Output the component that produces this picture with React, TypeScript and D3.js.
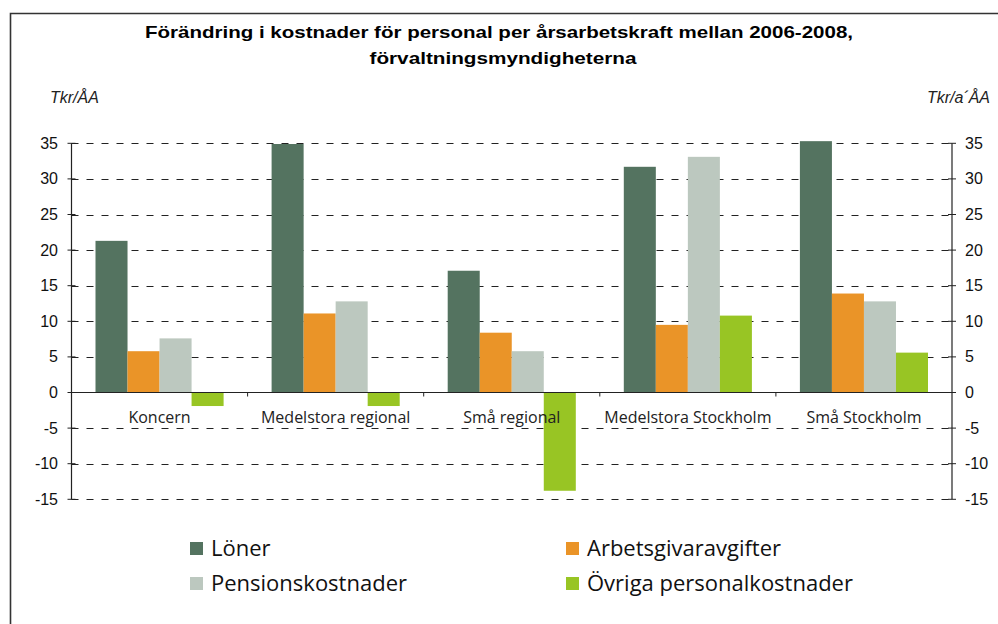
import React from "react";
import * as d3 from "d3";

const categories = ["Koncern", "Medelstora regional", "Små regional", "Medelstora Stockholm", "Små Stockholm"];
const seriesNames = ["Löner", "Arbetsgivaravgifter", "Pensionskostnader", "Övriga personalkostnader"];
const loner = [21.3, 34.9, 17.1, 31.7, 35.3];
const arbetsgivar = [5.8, 11.1, 8.4, 9.5, 13.9];
const pension = [7.6, 12.8, 5.8, 33.1, 12.8];
const ovriga = [-1.9, -1.9, -13.8, 10.8, 5.6];
const seriesValues = [loner, arbetsgivar, pension, ovriga];
const colors = ["#547360", "#EA9428", "#BCC8BF", "#98C524"];
const yTicks = [-15, -10, -5, 0, 5, 10, 15, 20, 25, 30, 35];
const titleLines = ["Förändring i kostnader för personal per årsarbetskraft mellan 2006-2008,", "förvaltningsmyndigheterna"];
const leftUnit = "Tkr/ÅA";
const rightUnit = "Tkr/a´ÅA";

export default function App() {
  const W = 998, H = 624;
  const left = 71.5, right = 952;
  const y = d3.scaleLinear().domain([-15, 35]).range([499.3, 143.3]);
  const x0 = d3.scaleBand<string>().domain(categories).range([left, right]).paddingInner(0).paddingOuter(0);
  const inner = 24;
  const x1 = d3.scaleBand<string>().domain(seriesNames).range([inner, x0.bandwidth() - inner]).padding(0);
  const axisFont = "'Liberation Sans', Arial, sans-serif";
  const humanFont = "'Open Sans', 'Noto Sans', sans-serif";
  const legendItems = [
    { i: 0, x: 190, y: 542 },
    { i: 1, x: 566, y: 542 },
    { i: 2, x: 190, y: 577 },
    { i: 3, x: 566, y: 577 },
  ];
  return (
    <svg width={W} height={H} style={{ position: "absolute", left: 0, top: 0, background: "#fff" }}>
      <rect x={0} y={0} width={W} height={H} fill="#fff" />
      <path d={`M10.5,${H} L10.5,13.5 L${W},13.5`} fill="none" stroke="#333" strokeWidth={1.6} />
      <text x={499} y={38} textAnchor="middle" fontFamily={axisFont} fontWeight="bold" fontSize={17} textLength={708} lengthAdjust="spacingAndGlyphs">{titleLines[0]}</text>
      <text x={503} y={64} textAnchor="middle" fontFamily={axisFont} fontWeight="bold" fontSize={17} textLength={267} lengthAdjust="spacingAndGlyphs">{titleLines[1]}</text>
      <text x={50} y={103} fontFamily={axisFont} fontStyle="italic" fontSize={16} fill="#222">{leftUnit}</text>
      <text x={990} y={103} textAnchor="end" fontFamily={axisFont} fontStyle="italic" fontSize={16} fill="#222">{rightUnit}</text>
      {yTicks.filter(t => t !== 0).map(t => (
        <line key={"g" + t} x1={left} x2={right} y1={Math.round(y(t)) + 0.5} y2={Math.round(y(t)) + 0.5} stroke="#222" strokeWidth={1} strokeDasharray="7,8" />
      ))}
      {seriesValues.map((vals, si) => (
        <g key={"s" + si}>
          {vals.map((v, ci) => (
            <rect key={ci}
              x={(x0(categories[ci]) as number) + (x1(seriesNames[si]) as number)}
              width={x1.bandwidth()}
              y={y(Math.max(0, v))}
              height={Math.abs(y(v) - y(0))}
              fill={colors[si]} />
          ))}
        </g>
      ))}
      <line x1={left} x2={right} y1={y(0)} y2={y(0)} stroke="#222" strokeWidth={1.2} />
      {categories.map((c, i) => i > 0 ? (
        <line key={"ct" + i} x1={x0(c)} x2={x0(c)} y1={y(0)} y2={y(0) + 4} stroke="#222" strokeWidth={1} />
      ) : null)}
      {categories.map(c => (
        <text key={"cl" + c} x={(x0(c) as number) + x0.bandwidth() / 2} y={423} textAnchor="middle" fontFamily={humanFont} fontSize={16} fill="#222">{c}</text>
      ))}
      <line x1={left} x2={left} y1={y(35)} y2={y(-15)} stroke="#222" strokeWidth={1.2} />
      <line x1={right} x2={right} y1={y(35)} y2={y(-15)} stroke="#222" strokeWidth={1.2} />
      {yTicks.map(t => (
        <g key={"t" + t}>
          <line x1={left - 4} x2={left + 4} y1={y(t)} y2={y(t)} stroke="#222" strokeWidth={1} />
          <line x1={right - 4} x2={right + 4} y1={y(t)} y2={y(t)} stroke="#222" strokeWidth={1} />
          <text x={58} y={y(t) + 5.5} textAnchor="end" fontFamily={axisFont} fontSize={16} fill="#111">{t}</text>
          <text x={965} y={y(t) + 5.5} textAnchor="start" fontFamily={axisFont} fontSize={16} fill="#111">{t}</text>
        </g>
      ))}
      {legendItems.map(it => (
        <g key={"l" + it.i}>
          <rect x={it.x} y={it.y} width={13} height={13} fill={colors[it.i]} />
          <text x={it.x + 21} y={it.y + 14} fontFamily={humanFont} fontSize={22} fill="#111">{seriesNames[it.i]}</text>
        </g>
      ))}
    </svg>
  );
}
